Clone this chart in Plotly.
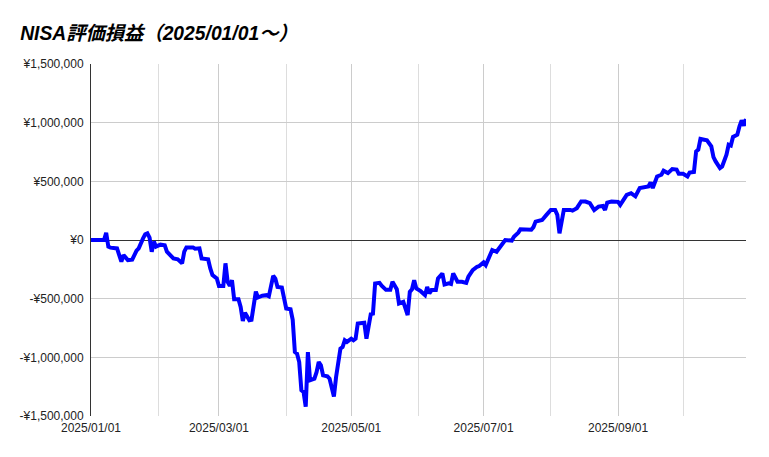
import plotly.graph_objects as go

# NISA valuation gain/loss
dates = [
    "2025-01-01", "2025-01-05", "2025-01-07", "2025-01-08", "2025-01-09", "2025-01-10",
    "2025-01-12", "2025-01-13", "2025-01-15", "2025-01-16", "2025-01-18", "2025-01-20",
    "2025-01-22", "2025-01-23", "2025-01-25", "2025-01-26", "2025-01-27", "2025-01-28",
    "2025-01-29", "2025-01-30", "2025-01-31", "2025-02-02", "2025-02-04", "2025-02-05",
    "2025-02-08", "2025-02-10", "2025-02-12", "2025-02-13", "2025-02-14", "2025-02-17",
    "2025-02-18", "2025-02-20", "2025-02-21", "2025-02-23", "2025-02-24", "2025-02-25",
    "2025-02-26", "2025-02-28", "2025-03-01", "2025-03-03", "2025-03-04", "2025-03-05",
    "2025-03-06", "2025-03-07", "2025-03-08", "2025-03-10", "2025-03-11", "2025-03-12",
    "2025-03-13", "2025-03-15", "2025-03-16", "2025-03-18", "2025-03-19", "2025-03-21",
    "2025-03-23", "2025-03-24", "2025-03-26", "2025-03-27", "2025-03-28", "2025-03-30",
    "2025-04-01", "2025-04-03", "2025-04-04", "2025-04-05", "2025-04-06", "2025-04-07",
    "2025-04-08", "2025-04-09", "2025-04-10", "2025-04-11", "2025-04-12", "2025-04-14",
    "2025-04-15", "2025-04-16", "2025-04-17", "2025-04-18", "2025-04-20", "2025-04-21",
    "2025-04-23", "2025-04-24", "2025-04-25", "2025-04-26", "2025-04-27", "2025-04-28",
    "2025-04-29", "2025-05-01", "2025-05-02", "2025-05-03", "2025-05-04", "2025-05-06",
    "2025-05-07", "2025-05-08", "2025-05-09", "2025-05-10", "2025-05-11", "2025-05-12",
    "2025-05-14", "2025-05-15", "2025-05-17", "2025-05-19", "2025-05-20", "2025-05-22",
    "2025-05-23", "2025-05-25", "2025-05-27", "2025-05-28", "2025-05-29", "2025-05-30",
    "2025-05-31", "2025-06-02", "2025-06-04", "2025-06-05", "2025-06-06", "2025-06-07",
    "2025-06-09", "2025-06-10", "2025-06-12", "2025-06-13", "2025-06-15", "2025-06-16",
    "2025-06-17", "2025-06-19", "2025-06-21", "2025-06-23", "2025-06-24", "2025-06-26",
    "2025-06-28", "2025-06-29", "2025-07-01", "2025-07-02", "2025-07-05", "2025-07-07",
    "2025-07-08", "2025-07-11", "2025-07-14", "2025-07-15", "2025-07-17", "2025-07-18",
    "2025-07-23", "2025-07-24", "2025-07-25", "2025-07-28", "2025-07-30", "2025-08-01",
    "2025-08-03", "2025-08-04", "2025-08-05", "2025-08-06", "2025-08-07", "2025-08-10",
    "2025-08-11", "2025-08-13", "2025-08-15", "2025-08-17", "2025-08-19", "2025-08-21",
    "2025-08-23", "2025-08-25", "2025-08-26", "2025-08-27", "2025-08-29", "2025-09-01",
    "2025-09-02", "2025-09-05", "2025-09-07", "2025-09-09", "2025-09-11", "2025-09-15",
    "2025-09-16", "2025-09-17", "2025-09-19", "2025-09-21", "2025-09-22", "2025-09-24",
    "2025-09-26", "2025-09-28", "2025-09-29", "2025-10-01", "2025-10-03", "2025-10-04",
    "2025-10-06", "2025-10-07", "2025-10-08", "2025-10-09", "2025-10-11", "2025-10-12",
    "2025-10-14", "2025-10-15", "2025-10-16", "2025-10-18", "2025-10-19", "2025-10-21",
    "2025-10-22", "2025-10-23", "2025-10-24", "2025-10-26", "2025-10-27", "2025-10-28",
    "2025-10-29", "2025-10-30",
]

profit = [
    0, 0, 0, 62000, -57000, -65000,
    -70000, -72000, -185000, -128000, -171000, -168000,
    -90000, -71000, 14000, 48000, 57000, 20000,
    -100000, -14000, -57000, -40000, -46000, -100000,
    -157000, -165000, -199000, -100000, -63000, -63000,
    -75000, -71000, -157000, -165000, -165000, -242000,
    -299000, -328000, -393000, -393000, -199000, -356000,
    -390000, -342000, -505000, -505000, -570000, -690000,
    -620000, -684000, -680000, -440000, -490000, -475000,
    -470000, -480000, -305000, -330000, -400000, -405000,
    -584000, -590000, -680000, -955000, -969000, -1040000,
    -1280000, -1296000, -1420000, -955000, -1195000, -1182000,
    -1126000, -1040000, -1068000, -1154000, -1162000, -1182000,
    -1335000, -1168000, -1040000, -926000, -912000, -855000,
    -869000, -841000, -855000, -841000, -712000, -707000,
    -705000, -841000, -741000, -632000, -627000, -370000,
    -365000, -390000, -425000, -425000, -356000, -420000,
    -541000, -527000, -640000, -442000, -420000, -342000,
    -413000, -436000, -470000, -400000, -456000, -427000,
    -427000, -328000, -285000, -379000, -370000, -375000,
    -285000, -356000, -356000, -365000, -313000, -256000,
    -228000, -222000, -191000, -214000, -85000, -100000,
    -75000, 0, -5000, 28000, 63000, 91000,
    88000, 110000, 157000, 171000, 214000, 256000,
    256000, 214000, 57000, 185000, 256000, 256000,
    250000, 271000, 328000, 328000, 314000, 256000,
    285000, 290000, 256000, 319000, 328000, 325000,
    299000, 385000, 399000, 372000, 442000, 456000,
    490000, 442000, 541000, 556000, 590000, 570000,
    604000, 600000, 564000, 564000, 541000, 575000,
    580000, 755000, 770000, 861000, 855000, 849000,
    798000, 707000, 670000, 613000, 627000, 727000,
    812000, 805000, 878000, 897000, 969000, 1020000,
    974000, 1031000,
]

y_ticks = [-1500000, -1000000, -500000, 0, 500000, 1000000, 1500000]
y_labels = [("-" if v < 0 else "") + "¥" + f"{abs(v):,}" for v in y_ticks]

fig = go.Figure()

fig.add_trace(go.Scatter(
    x=dates, y=profit,
    mode="lines",
    line=dict(color="#0000ff", width=4),
    hoverinfo="x+y",
))

# page body adds an 8px margin, so the figure is a bit smaller than the window
fig.update_layout(
    title=dict(
        text="<b><i>NISA評価損益（2025/01/01～）</i></b>",
        x=0.016, xanchor="left", y=0.944, yanchor="middle",
        font=dict(family="Liberation Sans, Noto Sans CJK JP", size=19.3, color="#000000"),
    ),
    showlegend=False,
    plot_bgcolor="white",
    paper_bgcolor="white",
    width=761,
    height=449,
    margin=dict(l=80, r=23, t=56, b=41),
    font=dict(family="Liberation Sans, Noto Sans CJK JP", size=12, color="#222222"),
)

fig.update_xaxes(
    type="date",
    range=["2025-01-01", "2025-10-30"],
    tick0="2025-01-01",
    dtick="M2",
    tickformat="%Y/%m/%d",
    ticks="",
    ticklabelstandoff=3,
    showgrid=True,
    gridcolor="#cccccc",
    minor=dict(dtick="M1", showgrid=True, gridcolor="#dddddd"),
    showline=False,
    zeroline=False,
    tickfont=dict(size=12, color="#222222"),
)

fig.update_yaxes(
    range=[-1500000, 1500000],
    tickvals=y_ticks,
    ticktext=y_labels,
    showgrid=True,
    gridcolor="#cccccc",
    zeroline=True,
    zerolinecolor="#333333",
    zerolinewidth=1,
    showline=True,
    linecolor="#333333",
    linewidth=1,
    ticks="",
    ticklabelstandoff=4,
    tickfont=dict(size=12, color="#222222"),
)

fig.write_html("out.html")
